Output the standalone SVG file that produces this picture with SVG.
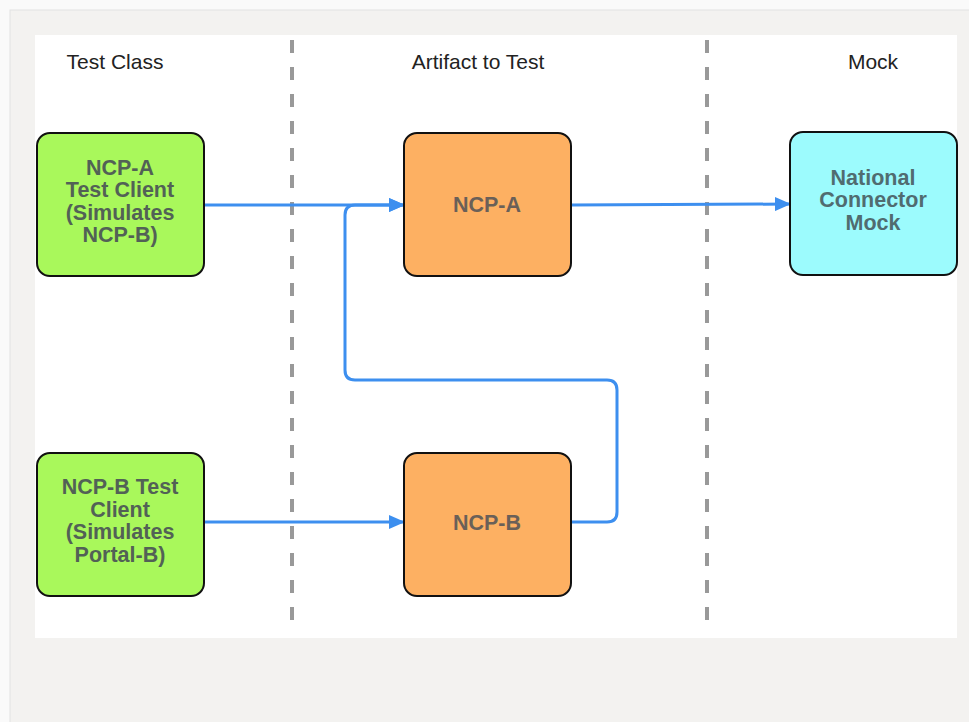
<svg xmlns="http://www.w3.org/2000/svg" width="969" height="722" viewBox="0 0 969 722">
<defs>
<style>
.hdr{font-family:"Liberation Sans",Arial,sans-serif;font-size:21px;fill:#222;text-anchor:middle}
.lbl{font-family:"Liberation Sans",Arial,sans-serif;font-size:21.5px;font-weight:bold;text-anchor:middle}
.box{stroke:#111;stroke-width:2}
.sep{stroke:#999;stroke-width:4;stroke-dasharray:13 14;fill:none}
.conn{stroke:#3d8fef;stroke-width:3;fill:none}
</style>
<marker id="arr" viewBox="0 0 16 14" refX="15" refY="7" markerWidth="16" markerHeight="14" markerUnits="userSpaceOnUse" orient="auto">
<path d="M0,0 L16,7 L0,14 z" fill="#3d8fef"/>
</marker>
</defs>
<rect width="969" height="722" fill="#fafafa"/>
<rect x="10" y="10" width="965" height="720" fill="#f3f2f0" stroke="#e2e2e2" stroke-width="1"/>
<rect x="35" y="35" width="922" height="603" fill="#ffffff"/>
<g id="separators">
<line class="sep" x1="292" y1="40" x2="292" y2="628"/>
<line class="sep" x1="707" y1="40" x2="707" y2="628"/>
</g>
<g id="headers">
<text class="hdr" x="115" y="69">Test Class</text>
<text class="hdr" x="478" y="69">Artifact to Test</text>
<text class="hdr" x="873" y="69">Mock</text>
</g>
<g id="connectors">
<line class="conn" x1="204" y1="205" x2="404" y2="205" marker-end="url(#arr)"/>
<line class="conn" x1="571" y1="205" x2="790" y2="204" marker-end="url(#arr)"/>
<line class="conn" x1="204" y1="522" x2="404" y2="522" marker-end="url(#arr)"/>
<path class="conn" d="M571,522 H607 Q617,522 617,512 V390 Q617,380 607,380 H355 Q345,380 345,370 V215 Q345,205 355,205 H404" marker-end="url(#arr)"/>
</g>
<g id="ncpa-client">
<rect class="box" x="37" y="133" width="167" height="143" rx="13" fill="#a9f85b"/>
<text class="lbl" fill="#526156"><tspan x="120" y="175">NCP-A</tspan><tspan x="120" y="197">Test Client</tspan><tspan x="120" y="220">(Simulates</tspan><tspan x="120" y="242">NCP-B)</tspan></text>
</g>
<g id="ncpa">
<rect class="box" x="404" y="133" width="167" height="143" rx="13" fill="#fdb062"/>
<text class="lbl" fill="#6a6058" x="487" y="212">NCP-A</text>
</g>
<g id="mock">
<rect class="box" x="790" y="132" width="167" height="143" rx="13" fill="#9cfbfd"/>
<text class="lbl" fill="#506c70"><tspan x="873" y="185">National</tspan><tspan x="873" y="207">Connector</tspan><tspan x="873" y="230">Mock</tspan></text>
</g>
<g id="ncpb-client">
<rect class="box" x="37" y="453" width="167" height="143" rx="13" fill="#a9f85b"/>
<text class="lbl" fill="#526156"><tspan x="120" y="494">NCP-B Test</tspan><tspan x="120" y="517">Client</tspan><tspan x="120" y="539">(Simulates</tspan><tspan x="120" y="562">Portal-B)</tspan></text>
</g>
<g id="ncpb">
<rect class="box" x="404" y="453" width="167" height="143" rx="13" fill="#fdb062"/>
<text class="lbl" fill="#6a6058" x="487" y="530">NCP-B</text>
</g>
</svg>
